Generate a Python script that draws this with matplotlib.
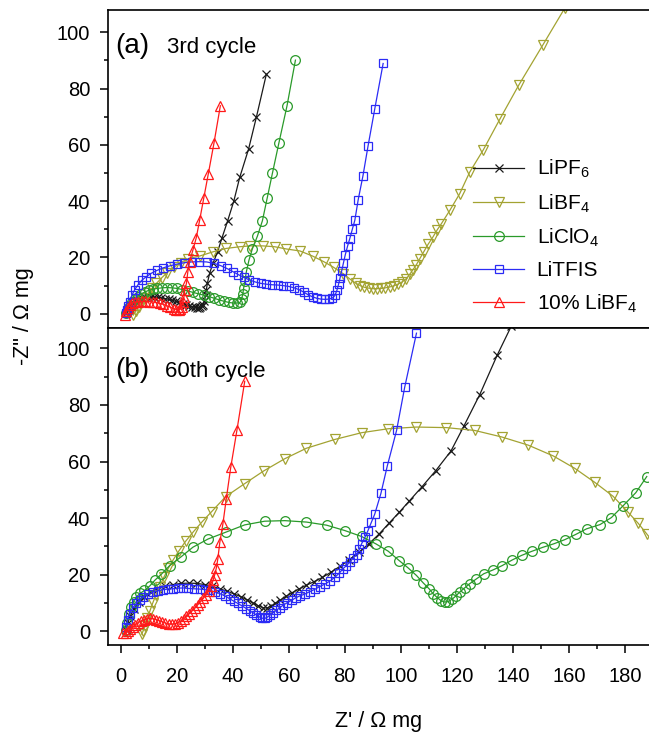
import numpy as np
import matplotlib
matplotlib.use("Agg")
import matplotlib.pyplot as plt
from matplotlib.ticker import MultipleLocator

plt.rcParams['font.family'] = ['Liberation Sans', 'DejaVu Sans']
plt.rcParams['mathtext.fontset'] = 'custom'
plt.rcParams['mathtext.rm'] = 'Liberation Sans'
plt.rcParams['mathtext.it'] = 'Liberation Sans:italic'

# ---- (a) 3rd cycle ----
a_pf6_x = [2.0, 2.5, 3.0, 3.6, 4.3, 5.0, 5.8, 6.7, 7.6, 8.6, 9.7, 10.8, 12.0, 13.2, 14.5, 15.8, 17.1,
           18.4, 19.7, 21.0, 22.2, 23.4, 24.5, 25.5, 26.4, 27.2, 27.9, 28.5, 29.0, 29.4, 29.9, 30.3,
           30.6, 31.0, 31.8, 33.0, 34.6, 36.2, 38.2, 40.4, 42.5, 45.7, 48.5, 52.0]
a_pf6_y = [0.3, 1.2, 2.1, 3.0, 3.8, 4.4, 4.9, 5.3, 5.6, 5.8, 5.9, 5.9, 5.9, 5.8, 5.6, 5.4, 5.1,
           4.8, 4.4, 4.0, 3.6, 3.2, 2.8, 2.5, 2.3, 2.2, 2.2, 2.3, 2.6, 3.0, 4.5, 6.5,
           8.5, 11.0, 14.5, 18.0, 22.0, 27.0, 33.0, 40.0, 48.4, 58.6, 70.0, 85.0]

a_bf4_x = [4.5, 5.5, 6.5, 7.5, 8.6, 9.8, 11.2, 12.8, 14.6, 16.6, 18.9, 21.4, 24.2, 28.2, 33.0,
           37.7, 42.5, 46.1, 50.8, 55.0, 59.2, 64.0, 68.5, 72.5, 76.0, 79.5, 82.0, 84.0, 85.5,
           87.0, 88.5, 90.0, 91.5, 93.0, 94.5, 96.0, 97.5, 99.0, 100.5, 102.0, 103.2, 104.3,
           105.5, 106.8, 108.2, 109.7, 111.5, 113.0, 114.5, 117.5, 121.0, 124.6, 129.5, 135.4,
           142.1, 150.6, 158.5]
a_bf4_y = [-0.5, 1.0, 2.5, 4.0, 5.5, 7.2, 9.0, 10.8, 12.7, 14.6, 16.5, 18.1, 19.6, 20.5, 22.0,
           23.2, 23.8, 24.1, 24.1, 23.8, 23.0, 22.3, 20.5, 18.5, 16.5, 14.2, 12.2, 10.8, 10.0,
           9.4, 9.1, 8.9, 8.9, 9.0, 9.2, 9.5, 9.9, 10.5, 11.3, 12.5, 14.0, 15.6,
           17.3, 19.6, 22.0, 24.6, 27.3, 29.8, 32.0, 36.7, 42.6, 50.3, 58.3, 69.2,
           81.2, 95.3, 108.5]

a_clo4_x = [2.0, 2.5, 3.2, 4.0, 5.0, 6.1, 7.3, 8.6, 10.0, 11.5, 13.1, 14.8, 16.5, 18.3, 20.1,
            22.0, 23.9, 25.8, 27.7, 29.6, 31.5, 33.4, 35.2, 37.0, 38.7, 40.2, 41.5, 42.6, 43.2,
            43.6, 43.9, 44.3, 44.9, 45.8, 47.0, 48.8, 50.6, 52.3, 54.2, 56.5, 59.4, 62.4]
a_clo4_y = [0.2, 1.5, 2.8, 4.0, 5.1, 6.1, 7.0, 7.7, 8.3, 8.7, 9.0, 9.2, 9.3, 9.2, 9.0,
            8.6, 8.1, 7.6, 7.1, 6.6, 6.1, 5.5, 4.9, 4.4, 4.0, 3.8, 3.8, 4.0, 5.2,
            7.0, 9.0, 11.5, 15.0, 19.0, 23.0, 27.5, 33.0, 41.0, 50.0, 60.7, 73.9, 90.1]

a_tfsi_x = [2.0, 2.4, 2.8, 3.2, 4.0, 5.0, 6.2, 7.6, 9.2, 11.0, 13.0, 15.2, 17.5, 20.0, 22.6,
            25.3, 28.0, 30.7, 33.3, 35.7, 37.9, 40.0, 42.0, 44.0, 46.0, 48.0, 50.0, 52.0, 54.0,
            56.0, 58.0, 60.0, 62.0, 63.8, 65.5, 67.0, 68.5, 70.0, 71.5, 73.0, 74.4, 75.6, 76.5,
            77.2, 77.8, 78.3, 78.9, 79.5, 80.2, 81.0, 81.8, 82.7, 83.6, 84.8, 86.5, 88.3, 90.7,
            93.7]
a_tfsi_y = [0.3, 1.5, 2.8, 4.3, 6.5, 8.5, 10.3, 11.9, 13.2, 14.4, 15.4, 16.3, 17.0, 17.6, 18.1,
            18.4, 18.5, 18.4, 17.9, 17.1, 16.1, 15.0, 13.9, 12.9, 12.0, 11.3, 10.8, 10.5, 10.3,
            10.2, 10.0, 9.7, 9.2, 8.5, 7.6, 6.7, 6.0, 5.5, 5.2, 5.1, 5.2, 5.6, 6.5,
            8.3, 10.5, 12.6, 15.2, 17.9, 21.0, 24.0, 26.7, 30.0, 33.2, 40.5, 49.0, 59.5, 72.7,
            88.9]

a_bf4_10_x = [1.5, 2.0, 2.5, 3.2, 4.0, 5.0, 6.2, 7.5, 8.8, 10.1, 11.4, 12.7, 14.0, 15.3, 16.6,
              17.8, 18.9, 19.9, 20.7, 21.3, 21.8, 22.2, 22.6, 22.9, 23.5, 24.0, 24.6, 25.8,
              27.0, 28.2, 29.7, 31.3, 33.3, 35.6]
a_bf4_10_y = [-0.5, 0.8, 2.0, 3.0, 3.7, 4.1, 4.3, 4.4, 4.4, 4.3, 4.2, 4.0, 3.7, 3.3, 2.8,
              2.3, 1.8, 1.5, 1.4, 1.6, 2.5, 4.0, 6.0, 8.5, 10.8, 15.0, 18.5, 22.6,
              27.0, 33.2, 41.2, 49.7, 60.5, 73.9]

# ---- (b) 60th cycle ----
b_pf6_x = [2.0, 2.6, 3.5, 4.8, 6.5, 8.5, 10.8, 13.3, 16.0, 18.8, 21.6, 24.4, 27.2, 30.0, 32.7,
           35.4, 38.0, 40.5, 42.9, 45.1, 47.2, 49.1, 50.8, 52.2, 53.6, 55.2, 57.0, 59.0, 61.2,
           63.6, 66.2, 69.0, 72.0, 75.0, 78.2, 81.5, 85.0, 88.6, 92.2, 95.8, 99.4, 103.0,
           107.5, 112.5, 117.9, 122.5, 128.2, 134.5, 139.5]
b_pf6_y = [0.5, 3.0, 5.5, 8.0, 10.3, 12.2, 13.8, 15.0, 15.9, 16.5, 16.9, 17.0, 16.9, 16.5, 15.9,
           15.0, 14.1, 13.2, 12.2, 11.1, 10.0, 9.0, 8.3, 8.2, 8.8, 9.8, 11.0, 12.3, 13.6,
           14.9, 16.2, 17.5, 19.0, 20.8, 22.9, 25.2, 27.9, 30.9, 34.3, 38.2, 42.0, 46.0,
           51.0, 56.8, 63.7, 72.5, 83.7, 97.8, 108.0]

b_bf4_x = [7.5, 8.0, 8.7, 9.5, 10.4, 11.4, 12.6, 13.9, 15.4, 17.0, 18.8, 20.8, 23.2, 26.0, 29.0,
           32.5, 37.5, 44.3, 51.1, 58.6, 66.3, 76.4, 86.0, 95.5, 105.6, 116.3, 126.4, 136.0,
           145.5, 154.4, 162.1, 169.3, 175.8, 181.2, 184.8, 187.8, 190.5]
b_bf4_y = [-1.0, 0.0, 2.0, 4.5, 7.0, 9.8, 12.8, 15.8, 19.0, 22.2, 25.3, 28.4, 31.8, 35.2, 38.6,
           42.3, 47.6, 52.2, 56.7, 61.0, 64.7, 67.8, 70.2, 71.6, 72.2, 72.0, 71.0, 68.7,
           65.8, 62.0, 57.6, 52.6, 47.7, 42.0, 38.1, 34.4, 31.0]

b_clo4_x = [1.8, 2.3, 3.0, 3.8, 4.6, 5.6, 7.0, 8.5, 10.4, 12.2, 14.5, 17.5, 21.7, 25.8, 31.2,
            37.5, 44.3, 51.4, 58.6, 66.3, 73.5, 80.0, 86.0, 91.1, 95.5, 99.4, 102.6, 105.6,
            108.0, 110.1, 111.5, 113.0, 114.5, 115.7, 117.0, 118.3, 119.6, 121.0, 122.9, 124.6,
            127.0, 129.6, 133.0, 136.2, 139.8, 143.1, 146.9, 150.8, 154.6, 158.6, 162.4, 166.3,
            171.1, 175.2, 179.4, 183.9, 187.8]
b_clo4_y = [0.5, 3.0, 6.0, 8.6, 10.5, 12.1, 13.4, 14.4, 16.0, 18.0, 20.1, 23.2, 26.4, 29.7, 32.6,
            35.0, 37.6, 38.9, 39.1, 38.6, 37.5, 35.6, 33.5, 30.9, 28.3, 25.0, 22.4, 19.7,
            17.1, 15.0, 13.3, 11.9, 10.7, 10.3, 10.5, 11.3, 12.4, 13.8, 15.4, 16.8,
            18.5, 20.3, 21.7, 23.2, 25.2, 26.8, 28.3, 29.7, 30.9, 32.4, 34.2, 36.2,
            37.7, 40.2, 44.4, 49.0, 54.7]

b_tfsi_x = [2.0, 2.5, 3.2, 4.3, 5.6, 6.8, 8.0, 9.7, 11.5, 13.3, 15.1, 16.9, 18.7, 20.5, 22.3,
            24.2, 26.2, 28.2, 30.0, 31.8, 33.6, 35.4, 37.2, 38.9, 40.4, 41.9, 43.4, 44.9, 46.1,
            47.3, 48.5, 49.6, 50.5, 51.4, 52.3, 53.2, 54.4, 55.6, 56.8, 58.0, 59.5, 61.0, 62.5,
            64.0, 65.7, 67.5, 69.3, 71.1, 73.0, 74.8, 76.5, 78.0, 79.4, 80.6, 81.8, 83.0, 84.2,
            85.2, 86.0, 87.2, 88.3, 89.5, 90.7, 92.9, 95.2, 98.5, 101.4, 105.6]
b_tfsi_y = [1.5, 4.0, 6.2, 8.2, 9.8, 11.0, 12.1, 13.0, 13.8, 14.3, 14.7, 14.9, 15.0, 15.2, 15.3,
            15.1, 15.0, 14.9, 14.7, 14.4, 13.9, 13.3, 12.5, 11.5, 10.6, 9.8, 8.9, 8.0, 7.2,
            6.5, 5.7, 5.0, 4.6, 4.5, 4.9, 5.6, 6.5, 7.4, 8.3, 9.2, 10.1, 10.9, 11.8,
            12.5, 13.1, 14.0, 14.8, 15.8, 16.7, 17.8, 19.1, 20.5, 22.1, 23.2, 24.4, 25.8, 27.1,
            29.0, 30.9, 33.2, 35.6, 38.5, 41.4, 48.7, 58.5, 71.0, 86.3, 105.4]

b_bf4_10_x = [1.0, 1.8, 2.6, 3.5, 4.4, 5.3, 6.2, 7.2, 8.3, 9.4, 10.5, 11.6, 12.7, 13.8, 14.9,
              16.0, 17.1, 18.2, 19.3, 20.4, 21.5, 22.5, 23.5, 24.5, 25.5, 26.5, 27.5, 28.5,
              29.5, 30.5, 31.4, 32.3, 33.0, 33.6, 34.2, 34.7, 35.4, 36.5, 37.7, 39.3, 41.5, 44.3]
b_bf4_10_y = [-0.8, -0.5, 0.0, 0.7, 1.5, 2.3, 3.0, 3.6, 4.1, 4.4, 4.5, 4.4, 4.1, 3.7, 3.3,
              2.9, 2.6, 2.5, 2.6, 3.0, 3.6, 4.4, 5.3, 6.2, 7.2, 8.2, 9.3, 10.4,
              11.6, 12.8, 14.2, 16.0, 18.0, 20.0, 22.5, 25.6, 31.4, 37.9, 46.7, 57.9, 71.0, 88.4]

labels = ['LiPF$_6$', 'LiBF$_4$', 'LiClO$_4$', 'LiTFIS', '10% LiBF$_4$']
colors = ['#1a1a1a', '#a3a332', '#2a9a2a', '#2b2bf5', '#ff1a1a']
markers = ['x', 'v', 'o', 's', '^']
msizes = [5.5, 6.5, 7, 6, 6.5]

fig = plt.figure(figsize=(6.49, 7.35), dpi=100)
ax1 = fig.add_axes([0.166, 0.554, 0.834, 0.432])
ax2 = fig.add_axes([0.166, 0.122, 0.834, 0.432])

top = [(a_pf6_x, a_pf6_y), (a_bf4_x, a_bf4_y), (a_clo4_x, a_clo4_y),
       (a_tfsi_x, a_tfsi_y), (a_bf4_10_x, a_bf4_10_y)]
bot = [(b_pf6_x, b_pf6_y), (b_bf4_x, b_bf4_y), (b_clo4_x, b_clo4_y),
       (b_tfsi_x, b_tfsi_y), (b_bf4_10_x, b_bf4_10_y)]

for ax, data in [(ax1, top), (ax2, bot)]:
    for (x, y), lab, c, m, ms in zip(data, labels, colors, markers, msizes):
        ax.plot(x, y, color=c, marker=m, ms=ms, mfc='none', mec=c, mew=0.9, lw=0.9, label=lab)
    ax.set_xlim(-4.6, 188.6)
    ax.xaxis.set_major_locator(MultipleLocator(20))
    ax.xaxis.set_minor_locator(MultipleLocator(10))
    ax.yaxis.set_major_locator(MultipleLocator(20))
    ax.yaxis.set_minor_locator(MultipleLocator(10))
    ax.tick_params(which='both', direction='out', width=1.1, labelsize=14.5)
    ax.tick_params(which='major', length=5.5)
    ax.tick_params(which='minor', length=3)
    ax.tick_params(axis='y', which='major', pad=7)
    ax.tick_params(axis='x', which='major', pad=10)
    ax.spines['right'].set_visible(False)
    for s in ['left', 'top', 'bottom']:
        ax.spines[s].set_linewidth(1.2)

ax1.set_ylim(-5, 107.8)
ax2.set_ylim(-5, 107.3)
ax1.tick_params(axis='x', labelbottom=False)
ax2.tick_params(axis='x', top=False)

ax1.text(0.013, 0.865, '(a)', transform=ax1.transAxes, fontsize=20, va='baseline')
ax1.text(0.109, 0.865, '3rd cycle', transform=ax1.transAxes, fontsize=16, va='baseline')
ax2.text(0.013, 0.844, '(b)', transform=ax2.transAxes, fontsize=20, va='baseline')
ax2.text(0.105, 0.844, '60th cycle', transform=ax2.transAxes, fontsize=16, va='baseline')

ax1.legend(loc='upper left', bbox_to_anchor=(0.729, 0.785), bbox_transform=fig.transFigure,
           frameon=False, fontsize=15, numpoints=1, handlelength=2.45, handletextpad=0.6,
           labelspacing=0.58, borderpad=0, borderaxespad=0)

ax2.set_xlabel("Z' / \u03a9 mg", fontsize=15.5, labelpad=18)
fig.text(0.036, 1 - 316 / 735, '-Z" / \u03a9 mg', rotation=90, fontsize=15.5, ha='center', va='center')

fig.savefig('out.png', dpi=100)
